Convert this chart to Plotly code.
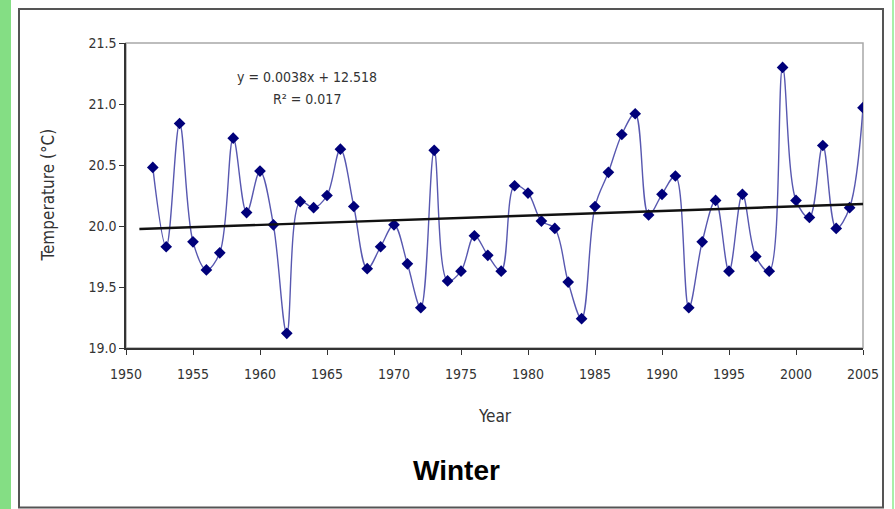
import plotly.graph_objects as go

years = list(range(1952, 2006))
temps = [20.48, 19.83, 20.84, 19.87, 19.64, 19.78, 20.72, 20.11, 20.45, 20.01,
         19.12, 20.20, 20.15, 20.25, 20.63, 20.16, 19.65, 19.83, 20.01, 19.69,
         19.33, 20.62, 19.55, 19.63, 19.92, 19.76, 19.63, 20.33, 20.27, 20.04,
         19.98, 19.54, 19.24, 20.16, 20.44, 20.75, 20.92, 20.09, 20.26, 20.41,
         19.33, 19.87, 20.21, 19.63, 20.26, 19.75, 19.63, 21.30, 20.21, 20.07,
         20.66, 19.98, 20.15, 20.97]
trend_years = [1951, 2005]
trend_values = [19.975, 20.18]
x_ticks = list(range(1950, 2006, 5))
y_ticks = [19.0, 19.5, 20.0, 20.5, 21.0, 21.5]

# pixel geometry of plot area
L, R, T, B = 126, 863, 43, 348
W, H = 895, 509
pw, ph = R - L, B - T

def px(x):
    return (x - L) / pw

def py(y):
    return (B - y) / ph

NARROW = "DejaVu Sans Condensed, sans-serif"

fig = go.Figure()
fig.add_trace(go.Scatter(
    x=years, y=temps, mode="lines+markers",
    line=dict(color="#5858B0", width=1.4, shape="spline", smoothing=1.0),
    marker=dict(symbol="diamond", size=9, color="#00007A"),
    showlegend=False, hoverinfo="x+y"))
fig.add_trace(go.Scatter(
    x=trend_years, y=trend_values, mode="lines",
    line=dict(color="#111111", width=2.4), showlegend=False))

tick_font = dict(family=NARROW, size=14, color="#333333")
title_font = dict(family=NARROW, size=17, color="#333333")

shapes = [
    dict(type="rect", xref="paper", yref="paper", x0=px(0), x1=px(11), y0=py(W), y1=py(0),
         fillcolor="#84DE84", line=dict(width=0), layer="below"),
    dict(type="line", xref="paper", yref="paper", x0=px(893), x1=px(893), y0=py(509), y1=py(0),
         line=dict(color="#8CEB8C", width=1.5)),
    dict(type="rect", xref="paper", yref="paper", x0=px(19), x1=px(883), y0=py(507.5), y1=py(9),
         line=dict(color="#555555", width=2), fillcolor="rgba(0,0,0,0)", layer="below"),
    dict(type="rect", xref="paper", yref="paper", x0=0, x1=1, y0=0, y1=1,
         line=dict(color="#A8A8A8", width=1.5), fillcolor="rgba(0,0,0,0)", layer="below"),
]

annotations = [
    dict(x=1963.5, y=21.22, xref="x", yref="y", text="y = 0.0038x + 12.518", showarrow=False,
         xanchor="center", yanchor="middle", font=dict(family=NARROW, size=14, color="#333333")),
    dict(x=1963.5, y=21.04, xref="x", yref="y", text="R² = 0.017", showarrow=False,
         xanchor="center", yanchor="middle", font=dict(family=NARROW, size=14, color="#333333")),
    dict(x=0.5, y=py(416), xref="paper", yref="paper", text="Year", showarrow=False,
         xanchor="center", yanchor="middle", font=title_font),
    dict(x=px(47), y=0.5, xref="paper", yref="paper", text="Temperature (°C)", showarrow=False,
         xanchor="center", yanchor="middle", textangle=-90, font=title_font),
    dict(x=px(456), y=py(471), xref="paper", yref="paper", text="<b>Winter</b>", showarrow=False,
         xanchor="center", yanchor="middle",
         font=dict(family="Liberation Sans, Arial, sans-serif", size=28, color="#000000")),
]

fig.update_layout(
    width=W, height=H,
    margin=dict(l=L, r=W - R, t=T, b=H - B, pad=0),
    paper_bgcolor="white", plot_bgcolor="white",
    shapes=shapes, annotations=annotations,
    xaxis=dict(range=[1950, 2005], tickvals=x_ticks, ticks="outside", ticklen=5,
               tickcolor="#333333", showline=True, linecolor="#333333", linewidth=1.5,
               showgrid=False, zeroline=False, tickfont=tick_font, ticklabelstandoff=7),
    yaxis=dict(range=[19.0, 21.5], tickvals=y_ticks, tickformat=".1f", ticks="outside",
               ticklen=5, tickcolor="#333333", showline=True, linecolor="#333333",
               linewidth=1.5, showgrid=False, zeroline=False, tickfont=tick_font),
)

fig.write_html("out.html")
